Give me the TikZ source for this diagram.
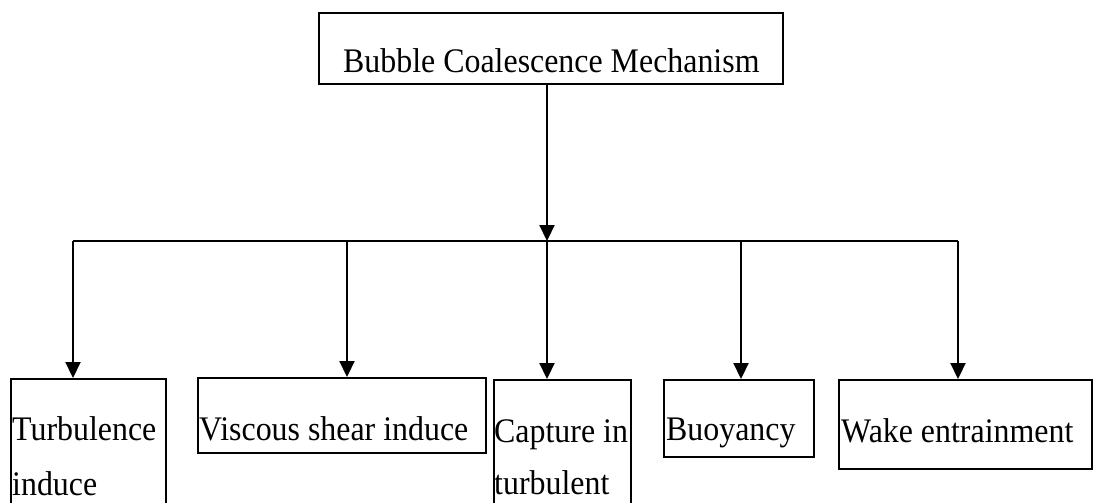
\documentclass[tikz,border=0pt]{standalone}
\usepackage{fontspec}
\setmainfont{Liberation Serif}
\usetikzlibrary{arrows.meta}
\newcommand{\tall}[1]{\scalebox{1}[1.08]{#1}}
\begin{document}
\begin{tikzpicture}
[x=1pt,y=-1pt,
box/.style={rectangle,draw=black,line width=1.6pt,inner sep=0pt,anchor=north west},
lbl/.style={anchor=base west,inner sep=0pt,font=\fontsize{31.9}{38}\selectfont},
arr/.style={line width=2.2pt,-{Triangle[width=15pt,length=16pt]}}]
\def \bus {241}
\useasboundingbox (0,0) rectangle (1093,503);
\clip (0,0) rectangle (1093,503);
% boxes
\node[box,minimum width=464pt,minimum height=71pt] (top) at (318,12) {};
\node[box,minimum width=155pt,minimum height=132pt] (b1) at (10,378) {};
\node[box,minimum width=288pt,minimum height=75pt] (b2) at (197,377) {};
\node[box,minimum width=137pt,minimum height=131pt] (b3) at (493,379) {};
\node[box,minimum width=150pt,minimum height=77pt] (b4) at (663,379) {};
\node[box,minimum width=253pt,minimum height=89pt] (b5) at (838,379) {};
% texts
\node[lbl] (ttop) at (343,73) {\tall{Bubble Coalescence Mechanism}};
\node[lbl] (t1a) at (12,440) {\tall{Turbulence}};
\node[lbl] (t1b) at (12,495) {\tall{induce}};
\node[lbl] (t2) at (199,440) {\tall{Viscous shear induce}};
\node[lbl] (t3a) at (494,442) {\tall{Capture in}};
\node[lbl] (t3b) at (494,494) {\tall{turbulent}};
\node[lbl] (t4) at (666,440) {\tall{Buoyancy}};
\node[lbl] (t5) at (841,442) {\tall{Wake entrainment}};
% bus
\coordinate (d1) at (73,\bus);
\coordinate (d2) at (347,\bus);
\coordinate (d3) at (547,\bus);
\coordinate (d4) at (741,\bus);
\coordinate (d5) at (958,\bus);
\draw[arr] (top.south -| d3) -- (d3);
\draw[line width=2.2pt] (d1) -- (d5);
\foreach \i in {1,...,5}
{
  \draw[arr] (d\i) -- (d\i |- b\i.north);
}
\end{tikzpicture}
\end{document}
